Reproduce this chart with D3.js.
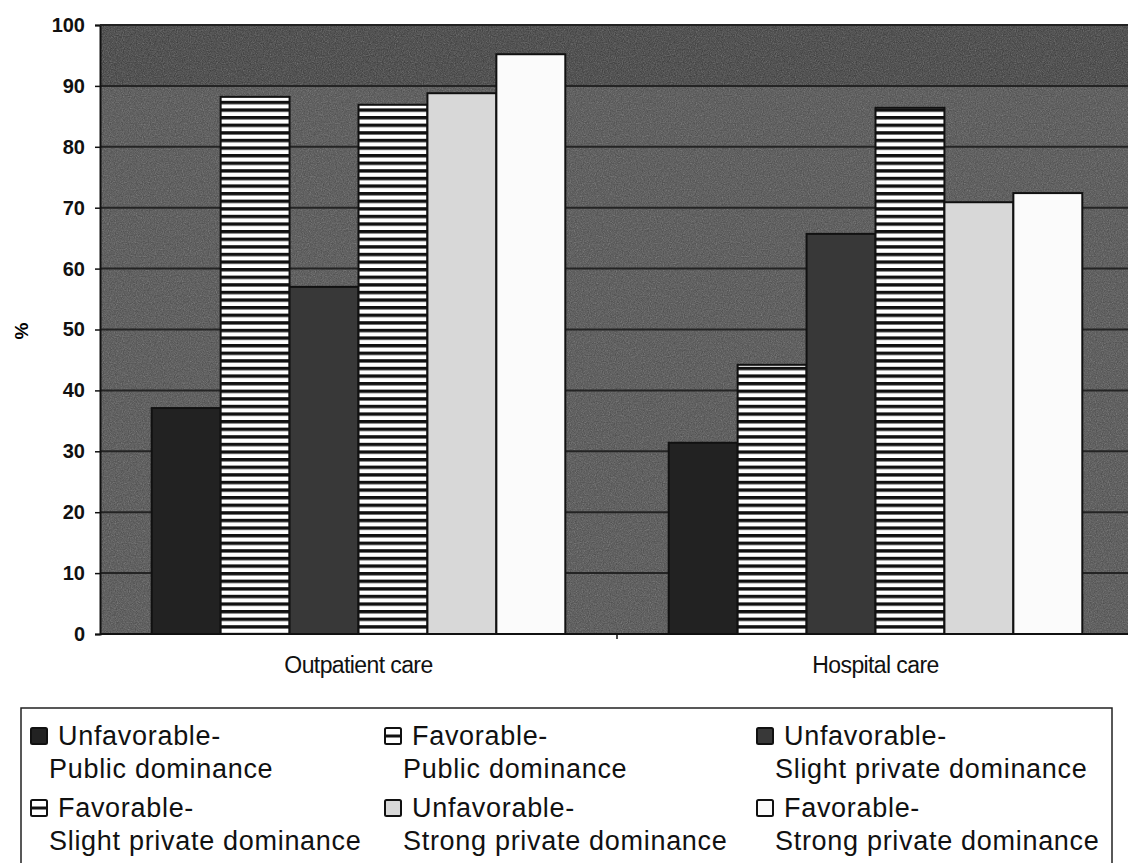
<!DOCTYPE html>
<html lang="en">
<head>
<meta charset="utf-8">
<title>Outpatient and hospital care</title>
<script src="https://cdn.jsdelivr.net/npm/d3@7"></script>
<style>
	body { margin: 0; background: white; }
	svg { display: block; font-family: "Liberation Sans", Arial, sans-serif; }
	.ytick text { font-weight: bold; font-size: 20px; fill: #111; }
	.cat { font-size: 23px; fill: #111; letter-spacing: -0.6px; }
	.leg { font-size: 27px; fill: #111; letter-spacing: 0.7px; }
</style>
</head>
<body>
<svg id="chart" width="1128" height="863"></svg>
<script>
// data
var categories = ["Outpatient care", "Hospital care"]
var seriesTop = ["Unfavorable-", "Favorable-", "Unfavorable-", "Favorable-", "Unfavorable-", "Favorable-"]
var seriesBottom = ["Public dominance", "Public dominance", "Slight private dominance",
	"Slight private dominance", "Strong private dominance", "Strong private dominance"]
var outpatient = [37.1, 88.2, 57.0, 86.9, 88.8, 95.2]
var hospital = [31.4, 44.2, 65.7, 86.4, 70.9, 72.4]
var yTicks = [0, 10, 20, 30, 40, 50, 60, 70, 80, 90, 100]

var fills = ["#222", "url(#stripes)", "#383838", "url(#stripes)", "#d8d8d8", "#fbfbfb"]

var svg = d3.select("#chart")
var defs = svg.append("defs")

// horizontal black/white stripes for the favorable bars
var pat = defs.append("pattern").attr("id", "stripes")
	.attr("patternUnits", "userSpaceOnUse").attr("width", 10).attr("height", 7.6)
	.attr("y", 2)
pat.append("rect").attr("width", 10).attr("height", 7.6).attr("fill", "#fff")
pat.append("rect").attr("width", 10).attr("height", 3.4).attr("fill", "#111")

// speckle texture for the plot background
var f = defs.append("filter").attr("id", "grain").attr("x", 0).attr("y", 0).attr("width", 1).attr("height", 1)
f.append("feTurbulence").attr("type", "fractalNoise").attr("baseFrequency", 0.85)
	.attr("numOctaves", 2).attr("seed", 4)
f.append("feColorMatrix").attr("type", "saturate").attr("values", 0)

var plot = {left: 100, top: 25, right: 1134, bottom: 634}

var y = d3.scaleLinear().domain([0, 100]).range([plot.bottom, plot.top])
var x0 = d3.scaleBand().domain(categories).range([plot.left, plot.right])
	.paddingInner(0.2).paddingOuter(0.1)
var x1 = d3.scaleBand().domain(d3.range(6)).range([0, x0.bandwidth()])

// background
svg.append("rect").attr("x", plot.left).attr("y", plot.top)
	.attr("width", plot.right - plot.left).attr("height", plot.bottom - plot.top)
	.attr("fill", "#4a4a4a")
svg.append("rect").attr("x", plot.left).attr("y", y(100))
	.attr("width", plot.right - plot.left).attr("height", y(90) - y(100))
	.attr("fill", "#383838")
svg.append("rect").attr("x", plot.left).attr("y", plot.top)
	.attr("width", plot.right - plot.left).attr("height", plot.bottom - plot.top)
	.attr("filter", "url(#grain)").attr("opacity", 0.42)

// gridlines
svg.append("g").selectAll("line").data(yTicks.slice(1)).enter().append("line")
	.attr("x1", plot.left).attr("x2", plot.right)
	.attr("y1", function(d) { return y(d) }).attr("y2", function(d) { return y(d) })
	.attr("stroke", "#242424").attr("stroke-width", 2)

// bars
var groups = svg.append("g").selectAll("g")
	.data(categories.map(function(c, i) { return {cat: c, vals: i == 0 ? outpatient : hospital} }))
	.enter().append("g")
	.attr("transform", function(d) { return "translate(" + x0(d.cat) + ",0)" })
groups.selectAll("rect").data(function(d) { return d.vals }).enter().append("rect")
	.attr("x", function(d, i) { return x1(i) })
	.attr("y", function(d) { return y(d) })
	.attr("width", x1.bandwidth())
	.attr("height", function(d) { return y(0) - y(d) })
	.attr("fill", function(d, i) { return fills[i] })
	.attr("stroke", "#111").attr("stroke-width", 2)

// axes
var yAxis = d3.axisLeft(y).tickValues(yTicks).tickSize(5).tickPadding(10)
var ya = svg.append("g").attr("class", "ytick").attr("transform", "translate(" + plot.left + ",0)").call(yAxis)
ya.select(".domain").attr("stroke", "#111").attr("stroke-width", 2)
ya.selectAll(".tick line").attr("stroke", "#111").attr("stroke-width", 1.5)

svg.append("line").attr("x1", plot.left).attr("x2", plot.right)
	.attr("y1", plot.bottom).attr("y2", plot.bottom).attr("stroke", "#111").attr("stroke-width", 2)
svg.append("line").attr("x1", plot.left).attr("x2", plot.right)
	.attr("y1", plot.top).attr("y2", plot.top).attr("stroke", "#222").attr("stroke-width", 2)
// tick between the two categories
var mid = (x0(categories[0]) + x0.bandwidth() + x0(categories[1])) / 2
svg.append("line").attr("x1", mid).attr("x2", mid).attr("y1", plot.bottom).attr("y2", plot.bottom + 5)
	.attr("stroke", "#111").attr("stroke-width", 1.5)

svg.append("g").selectAll("text").data(categories).enter().append("text")
	.attr("class", "cat")
	.attr("x", function(d) { return x0(d) + x0.bandwidth() / 2 })
	.attr("y", 673).attr("text-anchor", "middle")
	.text(function(d) { return d })

svg.append("text").attr("transform", "translate(28,331) rotate(-90)")
	.attr("text-anchor", "middle").attr("font-weight", "bold").attr("font-size", 19)
	.text("%")

// legend
svg.append("rect").attr("x", 21).attr("y", 708).attr("width", 1091).attr("height", 170)
	.attr("fill", "none").attr("stroke", "#222").attr("stroke-width", 1.5)
var colX = [30, 384, 756]
var rowY = [745, 817]
var items = svg.append("g").selectAll("g").data(d3.range(6)).enter().append("g")
	.attr("transform", function(i) { return "translate(" + colX[i % 3] + "," + rowY[Math.floor(i / 3)] + ")" })
items.append("rect").attr("x", 1).attr("y", -17).attr("width", 16).attr("height", 16)
	.attr("fill", function(i) { return fills[i] == "url(#stripes)" ? "#fff" : fills[i] })
	.attr("stroke", "#111").attr("stroke-width", 2).attr("rx", 1.5)
items.filter(function(i) { return fills[i] == "url(#stripes)" })
	.append("line").attr("x1", 1).attr("x2", 17).attr("y1", -9).attr("y2", -9)
	.attr("stroke", "#111").attr("stroke-width", 3)
items.append("text").attr("class", "leg").attr("x", 28).attr("y", 0)
	.text(function(i) { return seriesTop[i] })
items.append("text").attr("class", "leg").attr("x", 19).attr("y", 33)
	.text(function(i) { return seriesBottom[i] })
</script>
</body>
</html>
